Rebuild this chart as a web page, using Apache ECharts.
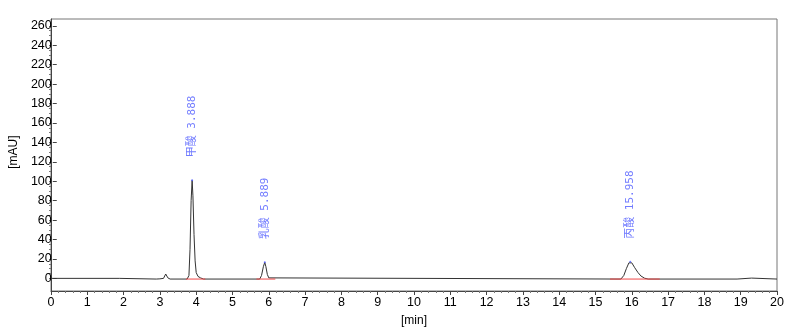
<!DOCTYPE html>
<html>
<head>
<meta charset="utf-8">
<script src="https://cdn.jsdelivr.net/npm/echarts@6/dist/echarts.min.js"></script>
<style>html,body{margin:0;padding:0;background:#fff;}#c{width:807px;height:336px;}</style>
</head>
<body>
<div id="c"></div>
<script>
// Chromatogram trace (time in min, signal in mAU)
var traceTime = [0, 1.88, 1.92, 2.9, 2.95, 3.0, 3.1, 3.16, 3.22, 3.28, 3.75, 3.8, 3.83, 3.86, 3.888, 3.91, 3.94, 3.97, 4.0, 4.05, 4.12, 4.2, 5.75, 5.8, 5.85, 5.889, 5.92, 5.96, 6.0, 6.05, 15.7, 15.78, 15.85, 15.92, 15.958, 16.0, 16.08, 16.17, 16.25, 16.35, 16.45, 18.9, 18.95, 19.3, 19.35, 20];
var traceSignal = [0, 0, -0.7, -0.7, 0.3, -0.5, 0, 4.5, 0.5, -0.7, -0.7, 3, 30, 80, 101, 85, 45, 18, 6, 2, 0.5, -0.7, -0.7, 3, 12, 16.5, 12, 4, 0.5, -0.7, -0.7, 3, 10, 16, 17, 16, 11, 6, 2.5, 0.2, -0.7, -0.7, 0.3, 0.3, -0.7, -0.7];

// Integrated peaks
var peakNames = ['甲酸', '乳酸', '丙酸'];
var peakTimes = [3.888, 5.889, 15.958];
var peakHeights = [101, 16.5, 17];
// Integration baselines (start, end) in min
var baseStart = [3.72, 5.66, 15.4];
var baseEnd = [4.25, 6.18, 16.77];
var baseLevel = -0.7;

// Axis ticks
var yTicksMin = 0, yTicksMax = 260, yTickStep = 20, yMinorStep = 5;
var xMin = 0, xMax = 20, xStep = 1;

var trace = traceTime.map(function (t, i) { return [t, traceSignal[i]]; });
var peaks = peakTimes.map(function (t, i) { return { value: [t, peakHeights[i]], name: peakNames[i] }; });

var labelFont = 'Liberation Sans, Arial, sans-serif';
var series = [
  {
    type: 'line', xAxisIndex: 0, yAxisIndex: 0, data: trace, showSymbol: false,
    lineStyle: { color: '#333', width: 1 }, itemStyle: { color: '#333' }, z: 2
  }
];
baseStart.forEach(function (s, i) {
  series.push({
    type: 'line', xAxisIndex: 0, yAxisIndex: 0, data: [[s, baseLevel], [baseEnd[i], baseLevel]], showSymbol: false,
    lineStyle: { color: '#f04848', width: 1 }, itemStyle: { color: '#f04848' }, z: 3
  });
});
series.push({
  type: 'scatter', xAxisIndex: 0, yAxisIndex: 0, data: peaks, symbolSize: 2,
  itemStyle: { color: '#4f5bff' }, z: 4,
  label: {
    show: true, position: 'top', distance: 22, rotate: 90, align: 'left', verticalAlign: 'middle',
    color: '#4f5bff', fontSize: 11, fontFamily: "'DejaVu Sans Mono', 'Noto Sans CJK SC', monospace",
    formatter: function (p) { return p.name + ' ' + p.value[0].toFixed(3); }
  }
});

var chart = echarts.init(document.getElementById('c'), null, { renderer: 'canvas' });
chart.setOption({
  animation: false,
  backgroundColor: '#fff',
  grid: [
    { left: 51, right: 30, top: 19, bottom: 45, show: true, borderColor: '#777', borderWidth: 1, backgroundColor: 'transparent' },
    { left: 51, right: 30, top: 25.8, bottom: 57.6 },
    { left: 51, right: 30, top: 25.8, bottom: 57.6 }
  ],
  xAxis: [
    {
      gridIndex: 0, type: 'value', min: xMin, max: xMax, interval: xStep,
      name: '[min]', nameLocation: 'middle', nameGap: 24,
      nameTextStyle: { color: '#000', fontSize: 12, fontFamily: labelFont },
      axisLine: { show: true, onZero: false, lineStyle: { color: '#444', width: 1 } },
      axisTick: { show: true, inside: false, length: 4, lineStyle: { color: '#444' } },
      minorTick: { show: true, splitNumber: 5, length: 2, lineStyle: { color: '#777' } },
      axisLabel: { color: '#000', fontSize: 12.5, fontFamily: labelFont, margin: 5 },
      splitLine: { show: false }, minorSplitLine: { show: false }
    },
    { gridIndex: 1, type: 'value', min: xMin, max: xMax, show: false },
    { gridIndex: 2, type: 'value', min: xMin, max: xMax, show: false }
  ],
  yAxis: [
    {
      gridIndex: 0, type: 'value', min: -13, max: 267,
      axisLine: { show: true, onZero: false, lineStyle: { color: '#444', width: 1 } },
      axisTick: { show: false }, axisLabel: { show: false }, splitLine: { show: false }
    },
    {
      gridIndex: 1, type: 'value', min: yTicksMin, max: yTicksMax, interval: yTickStep,
      name: '[mAU]', nameLocation: 'middle', nameGap: 32,
      nameTextStyle: { color: '#000', fontSize: 12, fontFamily: labelFont },
      axisLine: { show: false },
      axisTick: { show: true, inside: false, length: 4, lineStyle: { color: '#444' } },
      axisLabel: { color: '#000', fontSize: 12.5, fontFamily: labelFont, margin: 5 },
      splitLine: { show: false }
    },
    {
      gridIndex: 2, type: 'value', min: yTicksMin, max: yTicksMax, interval: yMinorStep,
      axisLine: { show: false },
      axisTick: { show: true, inside: false, length: 2, lineStyle: { color: '#777' } },
      axisLabel: { show: false }, splitLine: { show: false }
    }
  ],
  series: series
});
</script>
</body>
</html>
